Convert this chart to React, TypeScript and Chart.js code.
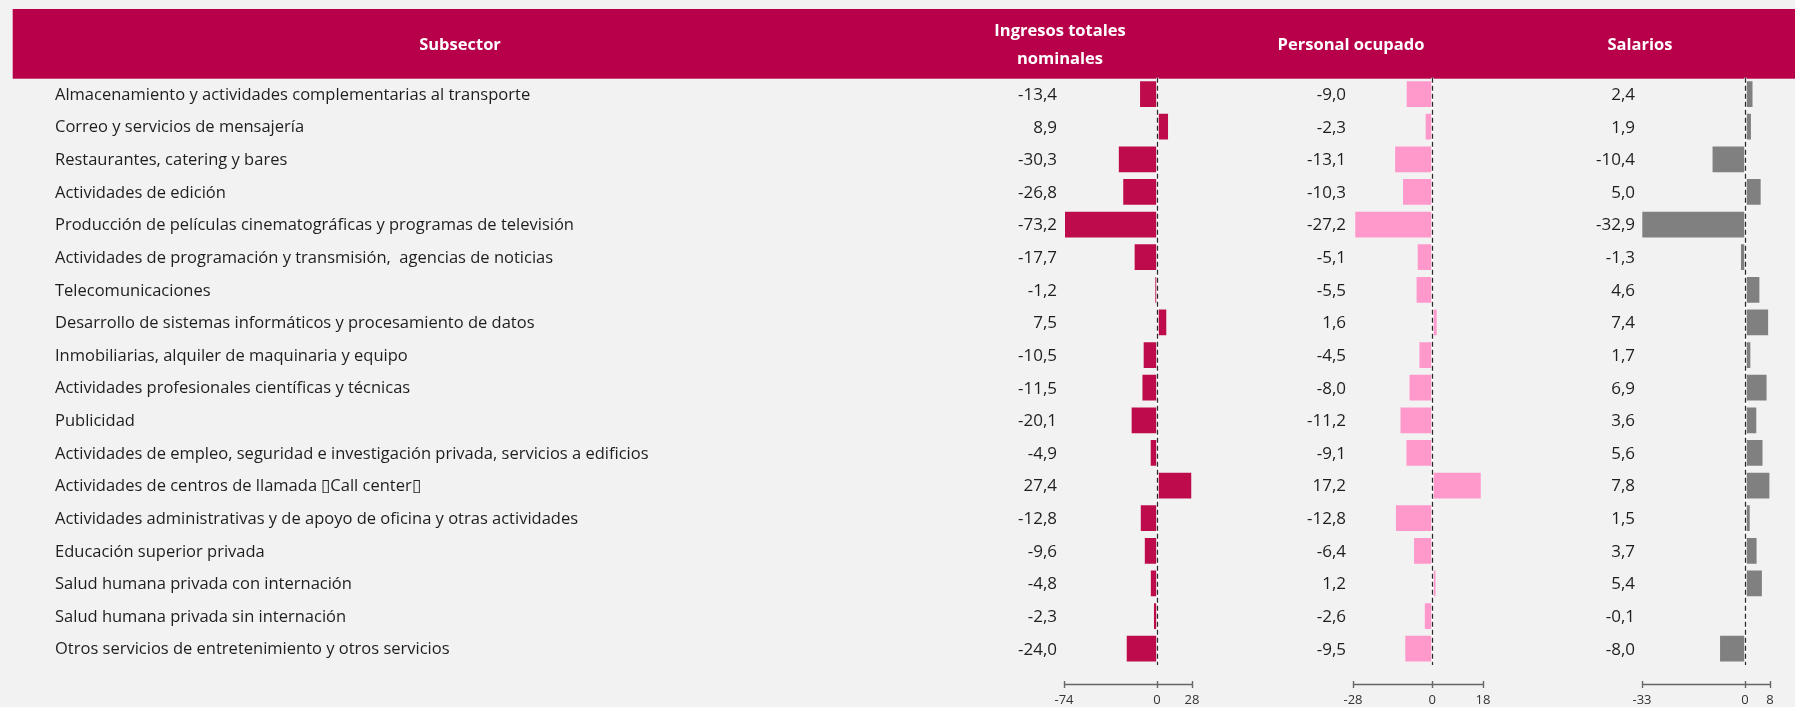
import React, { useEffect, useRef } from 'react';
import { Chart, registerables } from 'chart.js';

Chart.register(...registerables);

// ---------- data ----------
const subsectors = [
  'Almacenamiento y actividades complementarias al transporte',
  'Correo y servicios de mensajería',
  'Restaurantes, catering y bares',
  'Actividades de edición',
  'Producción de películas cinematográficas y programas de televisión',
  'Actividades de programación y transmisión,  agencias de noticias',
  'Telecomunicaciones',
  'Desarrollo de sistemas informáticos y procesamiento de datos',
  'Inmobiliarias, alquiler de maquinaria y equipo',
  'Actividades profesionales científicas y técnicas',
  'Publicidad',
  'Actividades de empleo, seguridad e investigación privada, servicios a edificios',
  'Actividades de centros de llamada \u25AFCall center\u25AF',
  'Actividades administrativas y de apoyo de oficina y otras actividades',
  'Educación superior privada',
  'Salud humana privada con internación',
  'Salud humana privada sin internación',
  'Otros servicios de entretenimiento y otros servicios',
];

const ingresos = [-13.4, 8.9, -30.3, -26.8, -73.2, -17.7, -1.2, 7.5, -10.5, -11.5, -20.1, -4.9, 27.4, -12.8, -9.6, -4.8, -2.3, -24.0];
const personal = [-9.0, -2.3, -13.1, -10.3, -27.2, -5.1, -5.5, 1.6, -4.5, -8.0, -11.2, -9.1, 17.2, -12.8, -6.4, 1.2, -2.6, -9.5];
const salarios = [2.4, 1.9, -10.4, 5.0, -32.9, -1.3, 4.6, 7.4, 1.7, 6.9, 3.6, 5.6, 7.8, 1.5, 3.7, 5.4, -0.1, -8.0];

const ingresosTicks = [-74, 0, 28];
const personalTicks = [-28, 0, 18];
const salariosTicks = [-33, 0, 8];

const headerTitles = ['Subsector', 'Ingresos totales\nnominales', 'Personal ocupado', 'Salarios'];

// ---------- styling / layout ----------
const W = 1795;
const H = 707;
const FONT = "'Open Sans', 'Noto Sans', sans-serif";
const BG = '#F2F2F2';
const HEADER_COLOR = '#B8004A';
const TEXT = '#1E1E1E';
const BAR_COLORS = ['#BE0B4B', '#FF99CC', '#808080'];

const HEADER_LEFT = 12.7;
const HEADER_TOP = 9;
const HEADER_H = 69.7;
const HEADER_X = [460, 1060, 1351, 1640];
const HEADER_MID = 45;
const HEADER_LINE = 28;

const PAD_LEFT = 55;
const PAD_RIGHT = 25;
const PAD_TOP = 77.75;
const LABEL_COL_W = 600;
const AXIS_BOX_H = 42;
const AXIS_LINE_OFFSET = 19;
const VALUE_GAP = 7;
const TEXT_SHIFT = 1;
// widths of stacked bottom scales (spacer, pane, spacer, pane, spacer, pane)
const STACK_W = [409, 128, 161, 130, 159, 128];

const PANES = ['x1', 'x2', 'x3'];

const fmt = (v: number) => v.toFixed(1).replace('.', ',');

function fixBottom(s: any) {
  s.height = AXIS_BOX_H;
  s.paddingLeft = 0;
  s.paddingRight = 0;
  s.paddingTop = 0;
  s.paddingBottom = 0;
}

function paneScale(ticks: number[], weight: number) {
  return {
    type: 'linear',
    axis: 'x',
    position: 'bottom',
    stack: 'row',
    stackWeight: weight,
    min: ticks[0],
    max: ticks[ticks.length - 1],
    afterBuildTicks: (s: any) => {
      s.ticks = ticks.map((v) => ({ value: v }));
    },
    afterFit: fixBottom,
    grid: { display: false, drawTicks: false },
    border: { display: false },
    ticks: {
      font: { family: FONT, size: 13 },
      color: '#333',
      padding: 27,
      maxRotation: 0,
      autoSkip: false,
    },
  };
}

function spacerScale(weight: number) {
  return {
    type: 'linear',
    axis: 'x',
    position: 'bottom',
    stack: 'row',
    stackWeight: weight,
    afterFit: fixBottom,
    grid: { display: false, drawTicks: false },
    border: { display: false },
    ticks: { display: false },
  };
}

const decorPlugin = {
  id: 'decor',
  beforeDraw(chart: any) {
    const ctx = chart.ctx;
    ctx.save();
    ctx.fillStyle = BG;
    ctx.fillRect(0, 0, chart.width, chart.height);
    ctx.fillStyle = HEADER_COLOR;
    ctx.fillRect(HEADER_LEFT, HEADER_TOP, chart.width - HEADER_LEFT, HEADER_H);
    ctx.fillStyle = '#FFFFFF';
    ctx.font = `bold 16.5px ${FONT}`;
    ctx.textAlign = 'center';
    ctx.textBaseline = 'middle';
    headerTitles.forEach((t, i) => {
      const lines = t.split('\n');
      const y0 = HEADER_MID - ((lines.length - 1) * HEADER_LINE) / 2;
      lines.forEach((l, k) => ctx.fillText(l, HEADER_X[i], y0 + k * HEADER_LINE));
    });
    ctx.restore();
  },
  afterDatasetsDraw(chart: any) {
    const ctx = chart.ctx;
    const area = chart.chartArea;
    const yScale = chart.scales.y;
    ctx.save();
    PANES.forEach((id, di) => {
      const xs = chart.scales[id];
      // zero reference line
      const zx = Math.round(xs.getPixelForValue(0)) + 0.5;
      ctx.setLineDash([]);
      ctx.strokeStyle = '#FFFFFF';
      ctx.lineWidth = 2.5;
      ctx.beginPath();
      ctx.moveTo(zx, area.top);
      ctx.lineTo(zx, area.bottom);
      ctx.stroke();
      ctx.setLineDash([5, 3]);
      ctx.strokeStyle = '#2A2A2A';
      ctx.lineWidth = 1.3;
      ctx.beginPath();
      ctx.moveTo(zx, area.top);
      ctx.lineTo(zx, area.bottom);
      ctx.stroke();
      ctx.setLineDash([]);

      // value labels
      const data = chart.data.datasets[di].data as number[];
      ctx.fillStyle = TEXT;
      ctx.font = `17px ${FONT}`;
      ctx.textAlign = 'right';
      ctx.textBaseline = 'middle';
      data.forEach((v, j) => {
        ctx.fillText(fmt(v), xs.left - VALUE_GAP, yScale.getPixelForValue(j) + TEXT_SHIFT);
      });

      // mini bottom axis
      const ay = Math.round(area.bottom + AXIS_LINE_OFFSET) + 0.5;
      const x0 = xs.getPixelForValue(xs.min);
      const x1 = xs.getPixelForValue(xs.max);
      ctx.strokeStyle = '#666666';
      ctx.lineWidth = 1.4;
      ctx.beginPath();
      ctx.moveTo(x0, ay);
      ctx.lineTo(x1, ay);
      ctx.stroke();
      xs.ticks.forEach((t: any) => {
        const tx = Math.round(xs.getPixelForValue(t.value)) + 0.5;
        ctx.beginPath();
        ctx.moveTo(tx, ay - 3.5);
        ctx.lineTo(tx, ay + 3.5);
        ctx.stroke();
      });
    });
    ctx.restore();
  },
};

export default function App() {
  const canvasRef = useRef<HTMLCanvasElement | null>(null);

  useEffect(() => {
    document.body.style.margin = '0';
    document.body.style.background = BG;
    const canvas = canvasRef.current;
    if (!canvas) return;

    const chart = new Chart(canvas, {
      type: 'bar',
      data: {
        labels: subsectors,
        datasets: [
          { label: 'Ingresos totales nominales', data: ingresos, xAxisID: 'x1', yAxisID: 'y', backgroundColor: BAR_COLORS[0] },
          { label: 'Personal ocupado', data: personal, xAxisID: 'x2', yAxisID: 'y', backgroundColor: BAR_COLORS[1] },
          { label: 'Salarios', data: salarios, xAxisID: 'x3', yAxisID: 'y', backgroundColor: BAR_COLORS[2] },
        ],
      },
      options: {
        indexAxis: 'y',
        responsive: false,
        animation: false,
        devicePixelRatio: 1,
        layout: { padding: { left: PAD_LEFT, right: PAD_RIGHT, top: PAD_TOP, bottom: 0 } },
        datasets: {
          bar: { grouped: false, categoryPercentage: 1, barPercentage: 0.79, borderWidth: 0 },
        },
        plugins: {
          legend: { display: false },
          tooltip: { enabled: false },
          title: { display: false },
        },
        scales: {
          y: {
            type: 'category',
            position: 'left',
            offset: true,
            afterFit: (s: any) => {
              s.width = LABEL_COL_W;
              s.paddingTop = 0;
              s.paddingBottom = 0;
              s.paddingLeft = 0;
              s.paddingRight = 0;
            },
            grid: { display: false, drawTicks: false },
            border: { display: false },
            ticks: {
              crossAlign: 'far',
              padding: 0,
              labelOffset: TEXT_SHIFT,
              color: TEXT,
              font: { family: FONT, size: 16.5 },
              autoSkip: false,
            },
          },
          s1: spacerScale(STACK_W[0]),
          x1: paneScale(ingresosTicks, STACK_W[1]),
          s2: spacerScale(STACK_W[2]),
          x2: paneScale(personalTicks, STACK_W[3]),
          s3: spacerScale(STACK_W[4]),
          x3: paneScale(salariosTicks, STACK_W[5]),
        } as any,
      },
      plugins: [decorPlugin],
    } as any);

    return () => chart.destroy();
  }, []);

  return (
    <div style={{ width: W, height: H, background: BG }}>
      <canvas ref={canvasRef} width={W} height={H} style={{ display: 'block' }} />
    </div>
  );
}
